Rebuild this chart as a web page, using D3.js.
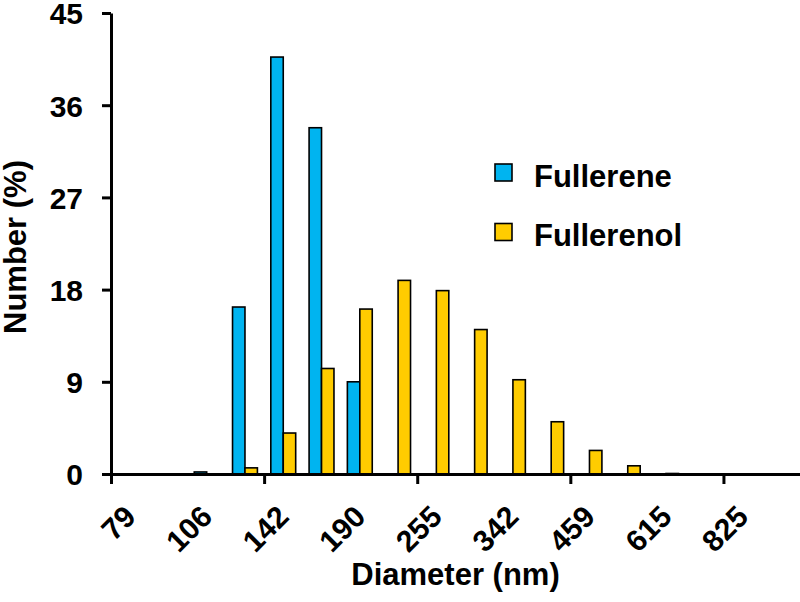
<!DOCTYPE html>
<html>
<head>
<meta charset="utf-8">
<script src="https://cdn.jsdelivr.net/npm/d3@7"></script>
<style>
  body { margin: 0; background: #fff; }
  svg { font-family: Arial, "Liberation Sans", sans-serif; font-weight: bold; }
</style>
</head>
<body>
<svg id="chart" width="800" height="602"></svg>
<script>
// diameter bins (nm), only every other one is labelled
const bins = ["79", "91", "106", "123", "142", "164", "190", "220", "255",
              "295", "342", "396", "459", "531", "615", "712", "825", "955"];
const labelledBins = ["79", "106", "142", "190", "255", "342", "459", "615", "825"];
const fullerene  = [0, 0, 0.2, 16.3, 40.7, 33.8, 9.0, 0, 0, 0, 0, 0, 0, 0, 0, 0, 0, 0];
const fullerenol = [0, 0, 0, 0.6, 4.0, 10.3, 16.1, 18.9, 17.9, 14.1, 9.2, 5.1, 2.3, 0.8, 0.05, 0, 0, 0];
const yTicks = [0, 9, 18, 27, 36, 45];
const seriesNames = ["Fullerene", "Fullerenol"];
const colors = ["#00b4f0", "#ffcc00"];

const size = {
    width: 800,
    height: 602,
    margin: { top: 13, right: 0, bottom: 128, left: 111 }
};
const svg = d3.select("#chart");

const x = d3.scaleBand()
    .domain(bins)
    .range([size.margin.left, size.width - size.margin.right])
    .paddingInner(0.35)
    .paddingOuter(0.175);

// bin boundaries, for the tick marks between categories
const xEdge = d3.scaleLinear()
    .domain([0, bins.length])
    .range([size.margin.left, size.width - size.margin.right]);

const xSub = d3.scaleBand()
    .domain(seriesNames)
    .range([0, x.bandwidth()]);

const y = d3.scaleLinear()
    .domain([0, 45])
    .range([size.height - size.margin.bottom, size.margin.top]);

const table = bins.map((b, i) => ({ bin: b, values: [fullerene[i], fullerenol[i]] }));

// bars
svg.append("g")
    .selectAll("g")
    .data(table)
    .join("g")
    .attr("transform", d => `translate(${x(d.bin)},0)`)
    .selectAll("rect")
    .data(d => d.values.map((v, k) => ({ key: seriesNames[k], value: v, color: colors[k] })).filter(e => e.value > 0))
    .join("rect")
    .attr("x", e => xSub(e.key))
    .attr("y", e => y(e.value))
    .attr("width", xSub.bandwidth())
    .attr("height", e => y(0) - y(e.value))
    .attr("fill", e => e.color)
    .attr("stroke", "#000")
    .attr("stroke-width", 1.6);

// y axis
const yAxis = svg.append("g")
    .attr("transform", `translate(${size.margin.left},0)`)
    .call(d3.axisLeft(y).tickValues(yTicks).tickSize(9).tickSizeOuter(0).tickPadding(19));
yAxis.select(".domain").attr("stroke-width", 3);
yAxis.selectAll(".tick line").attr("stroke-width", 3);
yAxis.selectAll("text")
    .attr("font-size", 30)
    .attr("font-family", "Arial, 'Liberation Sans', sans-serif")
    .attr("font-weight", "bold")
    .attr("fill", "#000")
    .attr("dy", "0.36em");

// x axis: tick marks every 4 bins
const xAxis = svg.append("g")
    .attr("transform", `translate(0,${y(0)})`)
    .call(d3.axisBottom(xEdge).tickValues([0, 4, 8, 12, 16]).tickSize(10).tickSizeOuter(0).tickFormat(""));
xAxis.select(".domain").attr("stroke-width", 3);
xAxis.selectAll(".tick line").attr("stroke-width", 3);

// x labels, rotated
const xLabels = svg.append("g")
    .attr("transform", `translate(0,${y(0)})`)
    .call(d3.axisBottom(x).tickValues(labelledBins).tickSize(0));
xLabels.select(".domain").remove();
xLabels.selectAll("text")
    .attr("font-size", 30)
    .attr("font-family", "Arial, 'Liberation Sans', sans-serif")
    .attr("font-weight", "bold")
    .attr("fill", "#000")
    .attr("x", 0)
    .attr("y", 0)
    .attr("dy", "0.35em")
    .style("text-anchor", "end")
    .attr("transform", "translate(0,37) rotate(-45)");

// axis titles
svg.append("text")
    .attr("x", (size.margin.left + size.width - size.margin.right) / 2)
    .attr("y", 585)
    .attr("text-anchor", "middle")
    .attr("font-size", 31)
    .text("Diameter (nm)");

svg.append("text")
    .attr("transform", "rotate(-90)")
    .attr("x", -247)
    .attr("y", 26)
    .attr("text-anchor", "middle")
    .attr("font-size", 31)
    .text("Number (%)");

// legend
const legend = svg.append("g")
    .selectAll("g")
    .data(seriesNames)
    .join("g")
    .attr("transform", (d, i) => `translate(495,${164 + i * 59.5})`);
legend.append("rect")
    .attr("width", 17)
    .attr("height", 17)
    .attr("fill", (d, i) => colors[i])
    .attr("stroke", "#000")
    .attr("stroke-width", 1.6);
legend.append("text")
    .attr("x", 39)
    .attr("y", 22.5)
    .attr("font-size", 31)
    .text(d => d);
</script>
</body>
</html>
